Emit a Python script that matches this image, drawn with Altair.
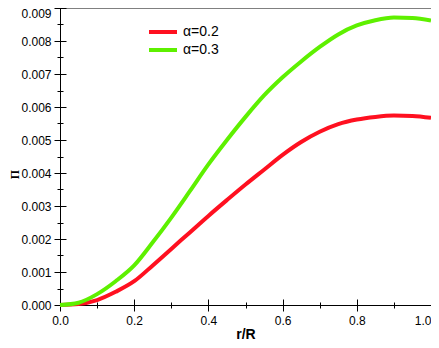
import altair as alt
import pandas as pd

r = [0.0, 0.05, 0.1, 0.15, 0.2, 0.25, 0.3, 0.35, 0.4, 0.45, 0.5,
     0.55, 0.6, 0.65, 0.7, 0.75, 0.8, 0.85, 0.9, 0.95, 1.0]
pi_a02 = [0.0, 0.00003, 0.00015, 0.0004, 0.00072, 0.0012, 0.0017, 0.0022, 0.0027, 0.00318, 0.00365,
          0.0041, 0.00455, 0.00494, 0.00525, 0.00548, 0.00562, 0.0057, 0.00574, 0.00573, 0.00567]
pi_a03 = [0.0, 0.00007, 0.00033, 0.00072, 0.0012, 0.0019, 0.00265, 0.00345, 0.00426, 0.005, 0.0057,
          0.00635, 0.0069, 0.00738, 0.00782, 0.0082, 0.00847, 0.00863, 0.00871, 0.0087, 0.00862]
series = ["α=0.2", "α=0.3"]
colors = ["#ff1020", "#5ef000"]

x_major = [0.0, 0.2, 0.4, 0.6, 0.8, 1.0]
x_minor = [0.1, 0.3, 0.5, 0.7, 0.9]
y_major = [0.0, 0.001, 0.002, 0.003, 0.004, 0.005, 0.006, 0.007, 0.008, 0.009]
y_minor = [0.0005, 0.0015, 0.0025, 0.0035, 0.0045, 0.0055, 0.0065, 0.0075, 0.0085]

df = pd.DataFrame({
    "r": r + r,
    "Pi": pi_a02 + pi_a03,
    "series": [series[0]] * len(r) + [series[1]] * len(r),
})

FONT = "Liberation Sans"
xs = alt.Scale(domain=[0, 1], nice=False, zero=False)
ys = alt.Scale(domain=[0, 0.009], nice=False, zero=False)
base = alt.Chart(df)

# layer 1: curves + axis domain lines, labels and titles
lines = base.mark_line(strokeWidth=4, interpolate="monotone").encode(
    x=alt.X("r:Q", scale=xs, axis=alt.Axis(
        orient="bottom", values=x_major, format=".1f", ticks=False, tickSize=0,
        domain=True, grid=False, labelPadding=10, labelFlush=False,
        labelFont=FONT, labelFontSize=12, labelColor="black",
        labelAlign=alt.condition("datum.value > 0.95", alt.value("right"), alt.value("center")),
        title="r/R", titleFont=FONT, titleFontSize=14, titleFontWeight="bold",
        titleColor="black", titleY=33, titleBaseline="alphabetic")),
    y=alt.Y("Pi:Q", scale=ys, axis=alt.Axis(
        orient="left", values=y_major, format=".3f", ticks=False, tickSize=0,
        domain=True, grid=False, labelPadding=9, labelFlush=False,
        labelFont=FONT, labelFontSize=12, labelColor="black",
        labelBaseline=alt.condition("datum.value > 0.0088", alt.value("top"), alt.value("middle")),
        title="Π", titleFont="Liberation Serif", titleFontSize=12, titleFontWeight="bold",
        titleColor="black", titleX=-42, titleY=166, titleBaseline="alphabetic")),
    color=alt.Color("series:N", scale=alt.Scale(domain=series, range=colors),
                    legend=alt.Legend(
                        title=None, orient="none", legendX=87, legendY=17, padding=0,
                        symbolType="M-1,0H4.6", symbolSize=100, symbolStrokeWidth=4,
                        labelFont=FONT, labelFontSize=14, labelColor="black",
                        labelOffset=22, rowPadding=2)),
)

# layer 2: major ticks crossing the axis lines
major = base.mark_line(strokeOpacity=0).encode(
    x=alt.X("r:Q", scale=xs, axis=alt.Axis(
        orient="bottom", values=x_major, offset=-6, tickSize=12,
        domain=False, grid=False, labels=False, title=None)),
    y=alt.Y("Pi:Q", scale=ys, axis=alt.Axis(
        orient="left", values=y_major, offset=-6, tickSize=12,
        domain=False, grid=False, labels=False, title=None)),
)

# layer 3: minor ticks crossing the axis lines
minor = base.mark_line(strokeOpacity=0).encode(
    x=alt.X("r:Q", scale=xs, axis=alt.Axis(
        orient="bottom", values=x_minor, offset=-3, tickSize=6,
        domain=False, grid=False, labels=False, title=None)),
    y=alt.Y("Pi:Q", scale=ys, axis=alt.Axis(
        orient="left", values=y_minor, offset=-3, tickSize=6,
        domain=False, grid=False, labels=False, title=None)),
)

chart = alt.layer(lines, major, minor).resolve_axis(
    x="independent", y="independent"
).properties(
    width=371, height=297,
    autosize=alt.AutoSizeParams(type="none"),
    padding={"left": 52, "top": 0, "right": 0, "bottom": 35},
).configure_view(
    stroke="#808080", strokeWidth=1
).configure_axis(
    tickColor="black", tickWidth=1, domainColor="black", domainWidth=1,
)

chart.save("out.html", embed_options={"renderer": "svg", "actions": False})
